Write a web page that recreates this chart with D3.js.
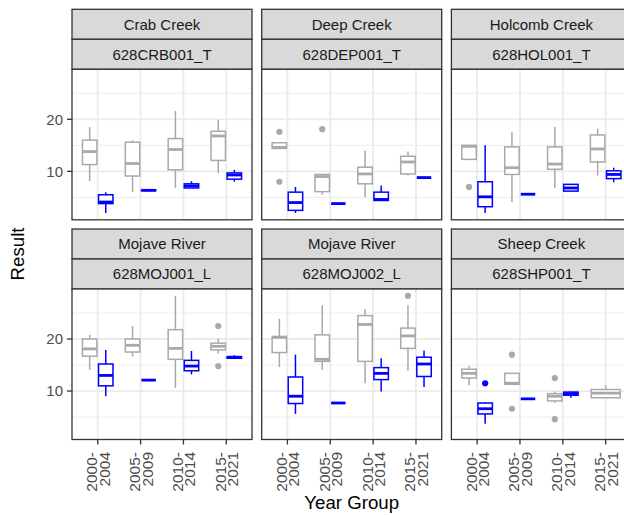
<!DOCTYPE html>
<html>
<head>
<meta charset="utf-8">
<script src="https://cdn.jsdelivr.net/npm/d3@7"></script>
<style>
  body { margin: 0; background: #fff; overflow: hidden; }
  svg { display: block; font-family: "Liberation Sans", Arial, sans-serif; }
</style>
</head>
<body>
<svg id="chart" width="624" height="515"></svg>
<script>
var sites = ["Crab Creek", "Deep Creek", "Holcomb Creek", "Mojave River", "Mojave River", "Sheep Creek"];
var codes = ["628CRB001_T", "628DEP001_T", "628HOL001_T", "628MOJ001_L", "628MOJ002_L", "628SHP001_T"];
var yearGroups = ["2000-2004", "2005-2009", "2010-2014", "2015-2021"];
var yMajor = [10, 20];
var yMinor = [5, 15, 25];

// box stats: [min, q1, median, q3, max] for each site and year group (null = no data)
var greyStats = [
  [[8.1, 11.3, 13.8, 16.0, 18.5], [6.0, 9.1, 11.5, 15.6, 16.0], [6.8, 10.3, 14.2, 16.3, 21.6], [9.7, 12.1, 16.8, 17.7, 19.9]],
  [[14.4, 14.4, 14.6, 15.5, 15.5], [5.5, 6.1, 9.0, 9.4, 9.4], [5.0, 7.6, 9.5, 10.8, 14.0], [9.2, 9.5, 11.8, 12.9, 13.8]],
  [[12.3, 12.3, 14.8, 15.0, 15.0], [4.1, 9.4, 10.7, 14.7, 17.5], [6.8, 10.4, 11.4, 14.7, 18.5], [9.2, 11.8, 14.3, 17.0, 18.2]],
  [[14.1, 16.7, 18.1, 20.0, 20.8], [16.6, 17.5, 18.8, 20.0, 22.5], [10.6, 16.1, 18.2, 21.8, 28.3], [17.2, 17.9, 18.6, 19.2, 20.1]],
  [[14.6, 17.4, 20.3, 20.5, 23.9], [14.1, 15.7, 16.1, 20.8, 26.5], [11.5, 15.7, 22.8, 24.5, 25.7], [13.9, 18.2, 20.6, 22.1, 26.5]],
  [[11.1, 12.5, 13.4, 14.2, 14.8], [11.3, 11.3, 11.5, 13.4, 13.4], [7.7, 8.1, 9.0, 9.5, 9.9], [8.7, 8.7, 9.6, 10.3, 11.1]]
];
var greyOutliers = [
  [[], [], [], []],
  [[17.6, 8.0], [18.1], [], []],
  [[7.0], [], [], []],
  [[], [], [], [22.5, 14.8]],
  [[], [], [], [28.3]],
  [[], [17.0, 6.6], [12.5, 4.6], []]
];
var blueStats = [
  [[2.0, 3.8, 4.1, 5.5, 6.0], [6.3, 6.3, 6.35, 6.4, 6.4], [6.8, 6.8, 7.2, 7.6, 8.1], [8.0, 8.5, 9.3, 9.7, 10.3]],
  [[2.0, 2.5, 4.0, 6.0, 7.0], [3.8, 3.8, 3.8, 3.8, 3.8], [4.4, 4.4, 4.6, 6.0, 7.3], [8.8, 8.8, 8.8, 8.8, 8.8]],
  [[2.0, 3.2, 5.1, 8.0, 15.0], [5.6, 5.6, 5.6, 5.6, 5.6], [6.2, 6.2, 6.8, 7.5, 7.5], [7.9, 8.6, 9.4, 10.1, 10.7]],
  [[9.0, 11.0, 13.0, 15.2, 17.9], [12.1, 12.1, 12.1, 12.1, 12.1], [13.2, 13.9, 14.8, 15.9, 17.7], [16.3, 16.3, 16.5, 16.6, 16.9]],
  [[5.6, 7.6, 9.0, 12.7, 17.0], [7.7, 7.7, 7.7, 7.7, 7.7], [9.9, 12.2, 13.4, 14.5, 16.3], [10.8, 12.8, 15.2, 16.5, 17.8]],
  [[3.7, 5.6, 6.6, 7.7, 7.9], [8.5, 8.5, 8.5, 8.5, 8.5], [8.7, 9.2, 9.5, 9.8, 9.9], null]
];
var blueOutliers = [
  [[], [], [], []],
  [[], [], [], []],
  [[], [], [], []],
  [[], [], [], []],
  [[], [], [], []],
  [[11.5], [], [], []]
];

var series = [
  { stats: greyStats, outliers: greyOutliers, color: "#A9A9A9" },
  { stats: blueStats, outliers: blueOutliers, color: "#0000FF" }
];

var svg = d3.select("#chart");

var panelW = 180, panelH = 150.5, stripH = 30;
var colGap = 9.7, rowGap = 9.2;
var plotLeft = 72, plotTop = 9.3;

// shared y scale over all data, ggplot style 5% expansion
var allVals = [];
series.forEach(function(s){
  s.stats.forEach(function(site, i){
    site.forEach(function(st, j){
      if (st) allVals = allVals.concat(st);
      allVals = allVals.concat(s.outliers[i][j]);
    });
  });
});
var lo = d3.min(allVals), hi = d3.max(allVals);
var pad = (hi - lo) * 0.05;
var y = d3.scaleLinear().domain([lo - pad, hi + pad]).range([panelH, 0]);

var x = d3.scalePoint().domain(yearGroups).range([0, panelW]).padding(0.6);
var dodgeW = x.step() * 0.75;

sites.forEach(function(site, i){
  var col = i % 3, row = Math.floor(i / 3);
  var px = plotLeft + col * (panelW + colGap);
  var stripTop = plotTop + row * (2 * stripH + panelH + rowGap);
  var py = stripTop + 2 * stripH;

  // strips
  var strips = svg.append("g").attr("transform", "translate(" + px + "," + stripTop + ")");
  [site, codes[i]].forEach(function(label, k){
    strips.append("rect")
      .attr("x", 0).attr("y", k * stripH)
      .attr("width", panelW).attr("height", stripH)
      .style("fill", "#D9D9D9").style("stroke", "#333333").style("stroke-width", 1.3);
    strips.append("text")
      .attr("x", panelW / 2).attr("y", k * stripH + stripH / 2)
      .attr("dy", "0.35em")
      .attr("text-anchor", "middle")
      .style("font-size", "15px").style("fill", "#1A1A1A")
      .text(label);
  });

  var g = svg.append("g").attr("transform", "translate(" + px + "," + py + ")");

  g.append("rect").attr("width", panelW).attr("height", panelH).style("fill", "#fff");

  // grid
  g.selectAll(".minor").data(yMinor).enter().append("line")
    .attr("x1", 0).attr("x2", panelW)
    .attr("y1", function(d){ return y(d); }).attr("y2", function(d){ return y(d); })
    .style("stroke", "#EBEBEB").style("stroke-width", 0.9);
  g.selectAll(".major").data(yMajor).enter().append("line")
    .attr("x1", 0).attr("x2", panelW)
    .attr("y1", function(d){ return y(d); }).attr("y2", function(d){ return y(d); })
    .style("stroke", "#EBEBEB").style("stroke-width", 1.8);
  g.selectAll(".vgrid").data(yearGroups).enter().append("line")
    .attr("x1", function(d){ return x(d); }).attr("x2", function(d){ return x(d); })
    .attr("y1", 0).attr("y2", panelH)
    .style("stroke", "#EBEBEB").style("stroke-width", 1.8);

  // boxes
  yearGroups.forEach(function(yg, j){
    var present = series.filter(function(s){ return s.stats[i][j]; });
    var n = present.length;
    present.forEach(function(s, k){
      var st = s.stats[i][j];
      var cx = x(yg) - dodgeW / 2 + dodgeW / n * (k + 0.5);
      var bw = dodgeW / n * 0.9;
      var box = g.append("g").style("stroke", s.color).style("fill", "none");

      box.append("line").attr("x1", cx).attr("x2", cx)
        .attr("y1", y(st[0])).attr("y2", y(st[1])).style("stroke-width", 1.5);
      box.append("line").attr("x1", cx).attr("x2", cx)
        .attr("y1", y(st[3])).attr("y2", y(st[4])).style("stroke-width", 1.5);
      box.append("rect")
        .attr("x", cx - bw / 2).attr("y", y(st[3]))
        .attr("width", bw).attr("height", y(st[1]) - y(st[3]))
        .style("fill", "#fff").style("stroke-width", 1.5);
      box.append("line").attr("x1", cx - bw / 2).attr("x2", cx + bw / 2)
        .attr("y1", y(st[2])).attr("y2", y(st[2])).style("stroke-width", 2.8);

      box.selectAll("circle").data(s.outliers[i][j]).enter().append("circle")
        .attr("cx", cx).attr("cy", function(d){ return y(d); })
        .attr("r", 3.1)
        .style("fill", s.color).style("stroke", "none");
    });
  });

  g.append("rect").attr("width", panelW).attr("height", panelH)
    .style("fill", "none").style("stroke", "#333333").style("stroke-width", 1.3);

  // y axis on left column
  if (col == 0) {
    g.selectAll(".ytick").data(yMajor).enter().append("line")
      .attr("x1", -5).attr("x2", 0)
      .attr("y1", function(d){ return y(d); }).attr("y2", function(d){ return y(d); })
      .style("stroke", "#333333").style("stroke-width", 1.3);
    g.selectAll(".ylab").data(yMajor).enter().append("text")
      .attr("x", -9).attr("y", function(d){ return y(d); })
      .attr("dy", "0.35em").attr("text-anchor", "end")
      .style("font-size", "15px").style("fill", "#4D4D4D")
      .text(function(d){ return d; });
  }

  // x axis on bottom row
  if (row == 1) {
    g.selectAll(".xtick").data(yearGroups).enter().append("line")
      .attr("x1", function(d){ return x(d); }).attr("x2", function(d){ return x(d); })
      .attr("y1", panelH).attr("y2", panelH + 5)
      .style("stroke", "#333333").style("stroke-width", 1.3);
    var lab = g.selectAll(".xlab").data(yearGroups).enter().append("text")
      .attr("transform", function(d){ return "translate(" + x(d) + "," + (panelH + 12.5) + ") rotate(-90)"; })
      .attr("text-anchor", "end")
      .style("font-size", "15.5px").style("fill", "#4D4D4D");
    lab.append("tspan").attr("x", 0).attr("y", -6).attr("dy", "0.35em")
      .text(function(d){ return d.split("-")[0] + "-"; });
    lab.append("tspan").attr("x", 0).attr("y", 6.5).attr("dy", "0.35em")
      .text(function(d){ return d.split("-")[1]; });
  }
});

// axis titles
svg.append("text")
  .attr("transform", "translate(17.5,254) rotate(-90)")
  .attr("dy", "0.35em").attr("text-anchor", "middle")
  .style("font-size", "18.7px").style("fill", "#000")
  .text("Result");

svg.append("text")
  .attr("x", plotLeft + (3 * panelW + 2 * colGap) / 2).attr("y", 509)
  .attr("text-anchor", "middle")
  .style("font-size", "18.7px").style("fill", "#000")
  .text("Year Group");
</script>
</body>
</html>
